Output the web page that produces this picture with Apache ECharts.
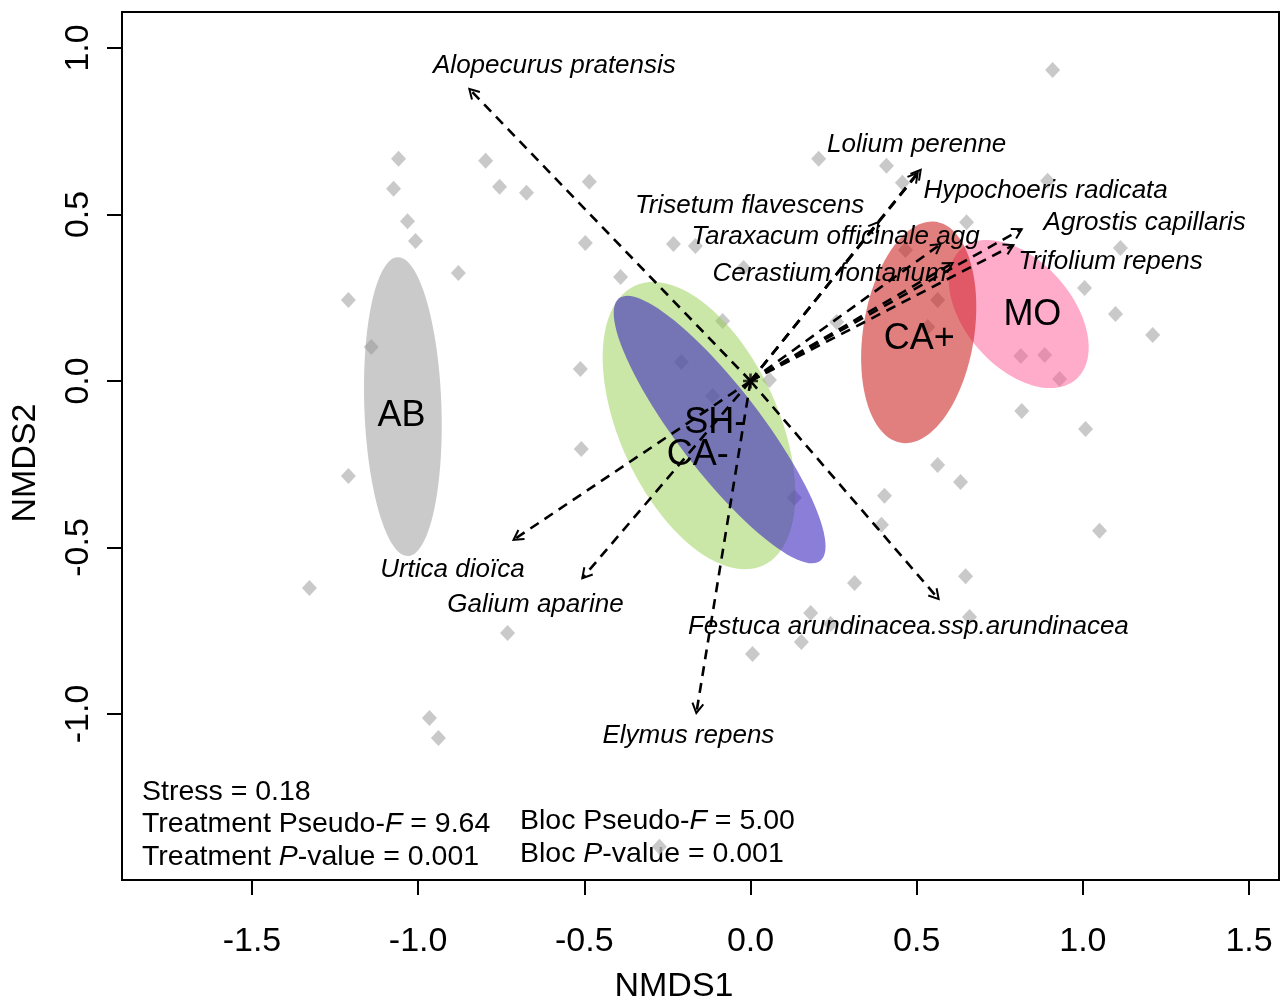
<!DOCTYPE html>
<html>
<head>
<meta charset="utf-8">
<script src="https://cdn.jsdelivr.net/npm/echarts@6/dist/echarts.min.js"></script>
<style>html,body{margin:0;padding:0;background:#fff}#c{width:1287px;height:1002px}</style>
</head>
<body>
<div id="c"></div>
<script>
// ---------- data ----------
const xTicks = [-1.5, -1.0, -0.5, 0.0, 0.5, 1.0, 1.5];
const yTicks = [-1.0, -0.5, 0.0, 0.5, 1.0];

// site scores (NMDS1, NMDS2)
const siteX = [-1.059,-1.074,-1.032,-1.008,-0.879,-1.210,-1.141,-0.797,-0.755,-0.674,
  0.909,0.205,0.409,0.457,-0.485,0.894,0.650,-0.497,-0.232,-0.166,
  -0.021,-0.391,0.466,1.113,1.005,1.098,1.210,0.563,0.533,-0.084,
  0.259,-0.512,-0.208,0.057,-0.114,0.930,0.813,0.885,0.816,1.008,
  0.563,0.632,0.403,0.132,0.394,1.050,0.313,0.647,0.181,0.659,
  0.153,0.006,-0.509,-1.210,-1.327,-0.731,-0.966,-0.939,-0.274,0.241];
const siteY = [0.667,0.577,0.480,0.420,0.324,0.243,0.102,0.661,0.583,0.565,
  0.934,0.667,0.646,0.595,0.598,0.601,0.477,0.414,0.411,0.405,
  0.339,0.312,0.393,0.399,0.279,0.201,0.138,0.243,0.162,0.180,
  0.177,0.036,0.057,0.003,-0.045,0.006,0.075,0.078,-0.090,-0.144,
  -0.252,-0.303,-0.345,-0.351,-0.432,-0.450,-0.607,-0.586,-0.697,-0.709,
  -0.784,-0.820,-0.204,-0.285,-0.622,-0.757,-1.012,-1.072,-1.399,-0.730];

// treatment ellipses: centre, semi-axes, rotation (deg)
const groupNames = ['AB', 'CA-', 'SH-', 'MO', 'CA+'];
const ellCX = [-1.046, -0.155, -0.093, 0.807, 0.506];
const ellCY = [-0.077, -0.134, -0.146, 0.201, 0.146];
const ellA  = [0.449, 0.462, 0.497, 0.261, 0.336];
const ellB  = [0.116, 0.238, 0.126, 0.160, 0.167];
const ellAngle = [92, 114.7, -52.5, -48.5, 80.9];
const ellColor = ['rgba(150,150,150,0.5)', 'rgba(150,208,80,0.5)', 'rgba(60,40,190,0.6)',
                  'rgba(255,90,150,0.5)', 'rgba(200,20,20,0.55)'];
const groupLabelX = [-1.050, -0.159, -0.106, 0.848, 0.508];
const groupLabelY = [-0.105, -0.224, -0.126, 0.198, 0.125];

// species vectors
const speciesNames = ['Alopecurus pratensis', 'Lolium perenne', 'Hypochoeris radicata',
  'Trisetum flavescens', 'Agrostis capillaris', 'Taraxacum officinale agg', 'Trifolium repens',
  'Cerastium fontanum', 'Urtica dioïca', 'Galium aparine',
  'Festuca arundinacea.ssp.arundinacea', 'Elymus repens'];
const arrowX = [-0.846, 0.512, 0.503, 0.385, 0.816, 0.572, 0.791, 0.608, -0.713, -0.506, 0.566, -0.163];
const arrowY = [0.877, 0.634, 0.625, 0.477, 0.456, 0.411, 0.408, 0.354, -0.477, -0.592, -0.655, -0.997];
const speciesLabelX = [-0.590, 0.500, 0.888, -0.003, 1.186, 0.256, 1.083, 0.238, -0.897, -0.647, 0.475, -0.187];
const speciesLabelY = [0.946, 0.709, 0.571, 0.526, 0.474, 0.432, 0.357, 0.321, -0.568, -0.673, -0.739, -1.066];

// ---------- chart ----------
const FONT = '"Liberation Sans", Arial, Helvetica, sans-serif';
const chart = echarts.init(document.getElementById('c'), null, {renderer: 'canvas'});

const sitePoints = siteX.map((x, i) => [x, siteY[i]]);
const ellData = groupNames.map((g, i) => ({
  value: [ellCX[i], ellCY[i], ellA[i], ellB[i], ellAngle[i]],
  itemStyle: {color: ellColor[i]}
}));
const arrowData = speciesNames.map((s, i) => [arrowX[i], arrowY[i]]);
const speciesLabelData = speciesNames.map((s, i) => ({value: [speciesLabelX[i], speciesLabelY[i]], name: s}));
const groupLabelData = groupNames.map((g, i) => ({value: [groupLabelX[i], groupLabelY[i]], name: g}));

const axisCommon = {
  type: 'value',
  splitLine: {show: false},
  axisLine: {show: true, onZero: false, lineStyle: {color: '#000', width: 2}},
  axisTick: {show: true, inside: false, length: 15, lineStyle: {color: '#000', width: 2}},
};

chart.setOption({
  animation: false,
  backgroundColor: '#fff',
  grid: {left: 122, right: 8, top: 12, bottom: 122, show: true, borderColor: '#000', borderWidth: 2, backgroundColor: 'transparent'},
  xAxis: Object.assign({}, axisCommon, {
    min: -1.891, max: 1.590,
    axisTick: Object.assign({}, axisCommon.axisTick, {customValues: xTicks}),
    axisLabel: {customValues: xTicks, margin: 45, fontSize: 34, color: '#000', fontFamily: FONT,
      formatter: v => v.toFixed(1)}
  }),
  yAxis: Object.assign({}, axisCommon, {
    min: -1.4985, max: 1.108,
    axisTick: Object.assign({}, axisCommon.axisTick, {customValues: yTicks}),
    axisLabel: {customValues: yTicks, margin: 26, rotate: 90, fontSize: 34, color: '#000', fontFamily: FONT,
      formatter: v => v.toFixed(1)}
  }),
  series: [
    {
      type: 'scatter', data: sitePoints, symbol: 'diamond', symbolSize: [15, 16],
      itemStyle: {color: '#bbbbbb'}, z: 1, silent: true
    },
    {
      type: 'custom', z: 2, silent: true, data: ellData,
      renderItem: function (params, api) {
        const cx = api.value(0), cy = api.value(1), a = api.value(2), b = api.value(3);
        const th = api.value(4) * Math.PI / 180;
        const pts = [];
        for (let k = 0; k < 100; k++) {
          const t = 2 * Math.PI * k / 100;
          const ex = a * Math.cos(t), ey = b * Math.sin(t);
          pts.push(api.coord([cx + ex * Math.cos(th) - ey * Math.sin(th), cy + ex * Math.sin(th) + ey * Math.cos(th)]));
        }
        return {type: 'polygon', shape: {points: pts}, style: {fill: api.visual('color'), stroke: 'none'}};
      }
    },
    {
      type: 'custom', z: 3, silent: true, data: arrowData,
      renderItem: function (params, api) {
        const p0 = api.coord([0, 0]);
        const p1 = api.coord([api.value(0), api.value(1)]);
        const ang = Math.atan2(p1[1] - p0[1], p1[0] - p0[0]);
        const L = 11, h = Math.PI / 6;
        const h1 = [p1[0] - L * Math.cos(ang - h), p1[1] - L * Math.sin(ang - h)];
        const h2 = [p1[0] - L * Math.cos(ang + h), p1[1] - L * Math.sin(ang + h)];
        return {type: 'group', children: [
          {type: 'line', shape: {x1: p0[0], y1: p0[1], x2: p1[0], y2: p1[1]},
           style: {stroke: '#000', lineWidth: 2.6, lineDash: [10, 7], fill: 'none'}},
          {type: 'polyline', shape: {points: [h1, p1, h2]},
           style: {stroke: '#000', lineWidth: 2, fill: 'none'}}
        ]};
      }
    },
    {
      type: 'scatter', z: 4, silent: true, data: [[0, 0]],
      symbol: 'path://M0,5.5h13v2.2h-13zM5.4,0h2.2v13h-2.2z', symbolSize: 15,
      itemStyle: {color: '#000'}
    },
    {
      type: 'custom', z: 5, silent: true, data: speciesLabelData,
      renderItem: function (params, api) {
        const p = api.coord([api.value(0), api.value(1)]);
        return {type: 'text', x: p[0], y: p[1], style: {
          text: speciesNames[params.dataIndex], fill: '#000', fontSize: 26, fontStyle: 'italic',
          fontFamily: FONT, align: 'center', verticalAlign: 'middle'}};
      }
    },
    {
      type: 'custom', z: 5, silent: true, data: groupLabelData,
      renderItem: function (params, api) {
        const p = api.coord([api.value(0), api.value(1)]);
        return {type: 'text', x: p[0], y: p[1], style: {
          text: groupNames[params.dataIndex], fill: '#000', fontSize: 36,
          fontFamily: FONT, align: 'center', verticalAlign: 'middle'}};
      }
    }
  ],
  graphic: [
    {type: 'text', x: 674, y: 987, style: {text: 'NMDS1', fontSize: 34, fontFamily: FONT, fill: '#000', align: 'center', verticalAlign: 'middle'}},
    {type: 'text', x: 26, y: 463, rotation: Math.PI / 2, style: {text: 'NMDS2', fontSize: 34, fontFamily: FONT, fill: '#000', align: 'center', verticalAlign: 'middle'}},
    {type: 'text', x: 142, y: 792, style: {text: 'Stress = 0.18', fontSize: 28.5, fontFamily: FONT, fill: '#000', align: 'left', verticalAlign: 'middle'}},
    {type: 'text', x: 142, y: 824, style: {text: 'Treatment Pseudo-{i|F} = 9.64', fontSize: 28.5, fontFamily: FONT, fill: '#000', align: 'left', verticalAlign: 'middle',
      rich: {i: {fontStyle: 'italic', fontSize: 28.5, fontFamily: FONT, fill: '#000'}}}},
    {type: 'text', x: 142, y: 857, style: {text: 'Treatment {i|P}-value = 0.001', fontSize: 28.5, fontFamily: FONT, fill: '#000', align: 'left', verticalAlign: 'middle',
      rich: {i: {fontStyle: 'italic', fontSize: 28.5, fontFamily: FONT, fill: '#000'}}}},
    {type: 'text', x: 520, y: 821, style: {text: 'Bloc Pseudo-{i|F} = 5.00', fontSize: 28.5, fontFamily: FONT, fill: '#000', align: 'left', verticalAlign: 'middle',
      rich: {i: {fontStyle: 'italic', fontSize: 28.5, fontFamily: FONT, fill: '#000'}}}},
    {type: 'text', x: 520, y: 854, style: {text: 'Bloc {i|P}-value = 0.001', fontSize: 28.5, fontFamily: FONT, fill: '#000', align: 'left', verticalAlign: 'middle',
      rich: {i: {fontStyle: 'italic', fontSize: 28.5, fontFamily: FONT, fill: '#000'}}}}
  ]
});
</script>
</body>
</html>
